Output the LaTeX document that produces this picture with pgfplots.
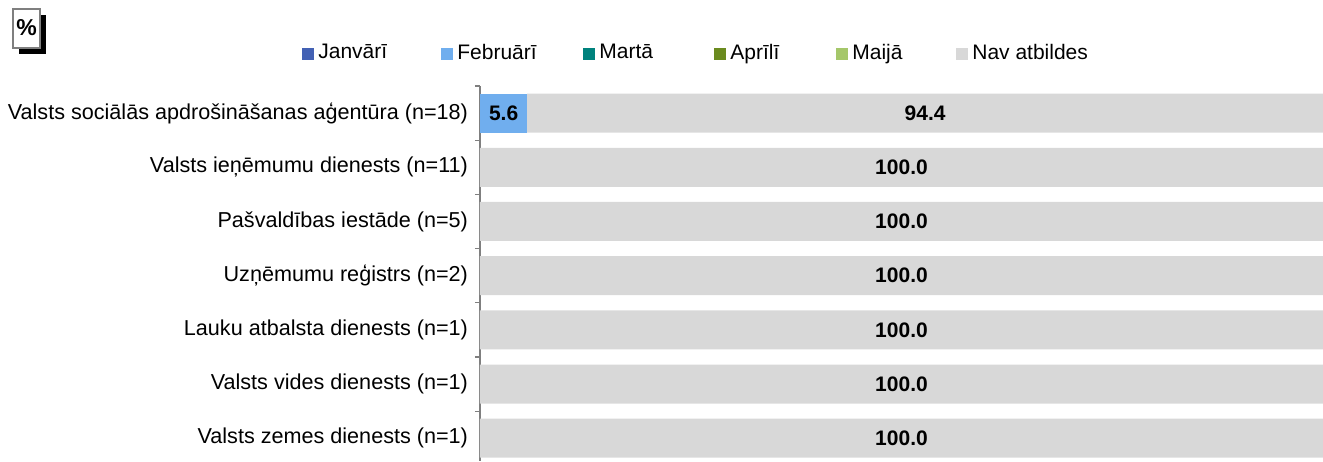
\documentclass[border=0pt]{standalone}
\usepackage{pgfplots}
\pgfplotsset{compat=1.18}
\usepackage{pgfplotstable}
\usepackage{fontspec}
\setmainfont{Liberation Sans}
\definecolor{cJan}{HTML}{4361B4}
\definecolor{cFeb}{HTML}{70AEEE}
\definecolor{cMar}{HTML}{00827D}
\definecolor{cApr}{HTML}{6B8B1F}
\definecolor{cMai}{HTML}{A5C76A}
\definecolor{cNav}{HTML}{D8D8D8}
\definecolor{axgray}{HTML}{7F7F7F}

\pgfplotstableread{
y jan feb mar apr mai nav
0 0 5.6 0 0 0 94.4
1 0 0 0 0 0 100.0
2 0 0 0 0 0 100.0
3 0 0 0 0 0 100.0
4 0 0 0 0 0 100.0
5 0 0 0 0 0 100.0
6 0 0 0 0 0 100.0
}\data

\begin{document}
\begin{tikzpicture}
\useasboundingbox (0,0) rectangle (661.5pt,-230.5pt);
% percent box
\fill[black] (9.5pt,-7.5pt) rectangle (23pt,-27pt);
\draw[axgray, fill=white, line width=0.6pt] (6.5pt,-4.5pt) rectangle (20pt,-24pt);
\node[font=\bfseries\fontsize{11.5}{13}\selectfont] at (13.25pt,-14pt) {\%};
\begin{axis}[
  at={(240pt,-43pt)}, anchor=north west,
  scale only axis, width=421.5pt, height=187.5pt,
  xbar stacked, bar width=19.5pt,
  xmin=0, xmax=100, ymin=-0.5, ymax=6.42, y dir=reverse,
  axis x line=none, axis y line*=left,
  y axis line style={axgray, line width=0.6pt},
  ytick={0,...,6},
  yticklabels={Valsts sociālās apdrošināšanas aģentūra (n=18),
    Valsts ieņēmumu dienests (n=11),
    Pašvaldības iestāde (n=5),
    Uzņēmumu reģistrs (n=2),
    Lauku atbalsta dienests (n=1),
    Valsts vides dienests (n=1),
    Valsts zemes dienests (n=1)},
  major tick length=0pt,
  minor ytick={-0.5,0.5,...,5.5},
  minor tick length=2.5pt,
  tick align=outside, ytick pos=left,
  minor tick style={axgray, line width=0.6pt},
  yticklabel style={font=\fontsize{10.8}{12}\selectfont, xshift=-2.5pt},
  legend columns=6,
  legend style={draw=none, fill=none, at={(axis description cs:0,1)}, anchor=west,
    xshift=-92pt, yshift=16.5pt, font=\fontsize{10.5}{12}\selectfont,
    /tikz/every even column/.append style={column sep=0pt}},
  legend image code/.code={\fill[#1] (0pt,-3.6pt) rectangle (6pt,2.4pt);},
]
\addplot[fill=cJan, draw=none] table[x=jan, y=y] \data;
\addlegendentry{\makebox[59.5pt][l]{Janvārī}}
\addplot[fill=cFeb, draw=none] table[x=feb, y=y] \data;
\addlegendentry{\makebox[61pt][l]{Februārī}}
\addplot[fill=cMar, draw=none] table[x=mar, y=y] \data;
\addlegendentry{\makebox[55.5pt][l]{Martā}}
\addplot[fill=cApr, draw=none] table[x=apr, y=y] \data;
\addlegendentry{\makebox[51pt][l]{Aprīlī}}
\addplot[fill=cMai, draw=none] table[x=mai, y=y] \data;
\addlegendentry{\makebox[50pt][l]{Maijā}}
\addplot[fill=cNav, draw=none] table[x=nav, y=y] \data;
\addlegendentry{Nav atbildes}
\end{axis}
\begin{axis}[
  at={(240pt,-43pt)}, anchor=north west,
  scale only axis, width=421.5pt, height=187.5pt,
  xmin=0, xmax=100, ymin=-0.5, ymax=6.42, y dir=reverse,
  hide axis, clip=false,
]
\addplot[only marks, mark=none, nodes near coords, nodes near coords align=center,
  point meta=explicit symbolic,
  every node near coord/.append style={font=\bfseries\fontsize{10.5}{12}\selectfont, text=black}]
  coordinates {(2.8,0)[5.6] (52.8,0)[94.4] (50,1)[100.0] (50,2)[100.0] (50,3)[100.0]
    (50,4)[100.0] (50,5)[100.0] (50,6)[100.0]};
\end{axis}
\end{tikzpicture}
\end{document}
